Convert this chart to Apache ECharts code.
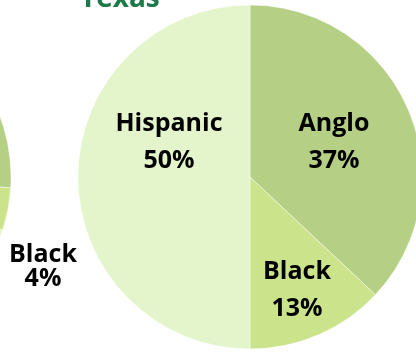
<!DOCTYPE html>
<html>
<head>
<meta charset="utf-8">
<script src="https://cdn.jsdelivr.net/npm/echarts@6/dist/echarts.min.js"></script>
<style>
  html, body { margin: 0; padding: 0; background: #ffffff; }
  #chart { width: 416px; height: 352px; }
</style>
</head>
<body>
<div id="chart"></div>
<script>
// Population shares by group (percent)
const groups = ['Anglo', 'Black', 'Hispanic'];
const texasShares = [37, 13, 50];
const neighbourShares = [26, 4, 70];
const groupColors = ['#b5cf85', '#cbe38b', '#e4f5cb'];

const FONT = '"Open Sans", "DejaVu Sans", sans-serif';

// Label anchor points for each slice (centre of the two-line label)
const texasLabelAt = [[334, 142], [297, 290], [169, 142]];
const neighbourLabelAt = [null, [43, 267], null];

function pieData(values) {
  return groups.map((g, i) => ({
    name: g,
    value: values[i],
    itemStyle: { color: groupColors[i] }
  }));
}

const chart = echarts.init(document.getElementById('chart'), null, { renderer: 'canvas' });

chart.setOption({
  backgroundColor: '#ffffff',
  animation: false,
  title: {
    text: 'Texas',
    left: 80,
    top: -15,
    padding: 0,
    textStyle: { fontFamily: FONT, fontSize: 28, fontWeight: 'bold', color: '#1b7a47' }
  },
  series: [
    {
      type: 'pie',
      center: [250, 177],
      radius: 172,
      startAngle: 90,
      clockwise: true,
      silent: true,
      itemStyle: { borderColor: 'rgba(255,255,255,0.45)', borderWidth: 1 },
      label: {
        show: true,
        position: 'inside',
        formatter: p => p.name + '\n' + p.value + '%',
        fontFamily: FONT,
        fontSize: 25,
        fontWeight: 'bold',
        color: '#000000',
        lineHeight: 37,
        align: 'center'
      },
      labelLine: { show: false },
      labelLayout: p => {
        const at = texasLabelAt[p.dataIndex];
        return { x: at[0], y: at[1], align: 'center', verticalAlign: 'middle' };
      },
      data: pieData(texasShares)
    },
    {
      type: 'pie',
      center: [-161, 177],
      radius: 172,
      startAngle: 90,
      clockwise: true,
      silent: true,
      itemStyle: { borderColor: 'rgba(255,255,255,0.45)', borderWidth: 1 },
      label: {
        show: true,
        position: 'inside',
        formatter: p => neighbourLabelAt[p.dataIndex] ? p.name + '\n' + p.value + '%' : '',
        fontFamily: FONT,
        fontSize: 25,
        fontWeight: 'bold',
        color: '#000000',
        lineHeight: 24,
        align: 'center'
      },
      labelLine: { show: false },
      labelLayout: p => {
        const at = neighbourLabelAt[p.dataIndex];
        if (!at) return {};
        return { x: at[0], y: at[1], align: 'center', verticalAlign: 'middle' };
      },
      data: pieData(neighbourShares)
    }
  ]
});
</script>
</body>
</html>
